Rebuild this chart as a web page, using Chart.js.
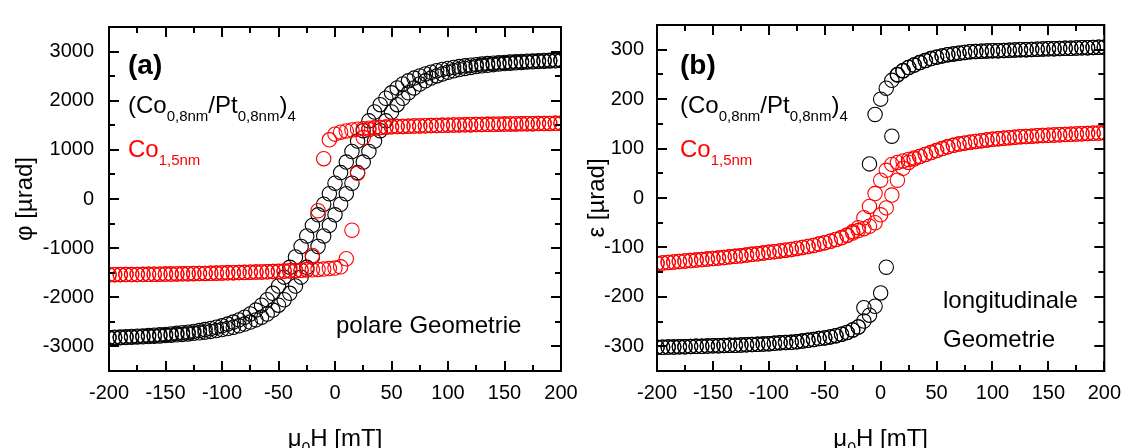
<!DOCTYPE html>
<html>
<head>
<meta charset="utf-8">
<script src="https://cdn.jsdelivr.net/npm/chart.js@4.4.1/dist/chart.umd.min.js"></script>
<style>
    html, body { margin: 0; padding: 0; background: #fff; }
    #wrap { position: relative; width: 1131px; height: 448px; overflow: hidden; }
    canvas { position: absolute; top: 0; }
    #chartA { left: 0; }
    #chartB { left: 570px; }
</style>
</head>
<body>
<div id="wrap">
    <canvas id="chartA" width="600" height="448"></canvas>
    <canvas id="chartB" width="561" height="448"></canvas>
</div>
<script>
// ---------- Data ----------
// applied field mu0H [mT], same sweep points for every branch
const field = [
    -200, -195, -190, -185, -180, -175, -170, -165, -160, -155,
    -150, -145, -140, -135, -130, -125, -120, -115, -110, -105,
    -100, -95, -90, -85, -80, -75, -70, -65, -60, -55,
    -50, -45, -40, -35, -30, -25, -20, -15, -10, -5,
    0, 5, 10, 15, 20, 25, 30, 35, 40, 45,
    50, 55, 60, 65, 70, 75, 80, 85, 90, 95,
    100, 105, 110, 115, 120, 125, 130, 135, 140, 145,
    150, 155, 160, 165, 170, 175, 180, 185, 190, 195,
    200,
];

// (a) polar Kerr rotation phi [urad] — (Co0.8/Pt0.8)4, black
const phiCoPtUp = [
    -2830, -2826, -2822, -2818, -2813, -2808, -2803, -2798, -2792, -2786,
    -2779, -2772, -2764, -2755, -2745, -2734, -2722, -2709, -2694, -2677,
    -2657, -2635, -2610, -2580, -2545, -2505, -2460, -2405, -2340, -2260,
    -2160, -2050, -1920, -1770, -1590, -1390, -1180, -967, -752, -537,
    -322, -107, 107, 322, 537, 752, 967, 1180, 1390, 1590,
    1770, 1920, 2050, 2160, 2260, 2340, 2405, 2460, 2505, 2545,
    2580, 2610, 2635, 2657, 2677, 2694, 2709, 2722, 2734, 2745,
    2755, 2764, 2772, 2779, 2786, 2792, 2798, 2803, 2808, 2813,
    2818,
];
const phiCoPtDown = [
    -2818, -2813, -2808, -2803, -2798, -2792, -2786, -2779, -2772, -2764,
    -2755, -2745, -2734, -2722, -2709, -2694, -2677, -2657, -2635, -2610,
    -2580, -2545, -2505, -2460, -2405, -2340, -2260, -2160, -2050, -1920,
    -1770, -1590, -1390, -1180, -967, -752, -537, -322, -107, 107,
    322, 537, 752, 967, 1180, 1390, 1590, 1770, 1920, 2050,
    2160, 2260, 2340, 2405, 2460, 2505, 2545, 2580, 2610, 2635,
    2657, 2677, 2694, 2709, 2722, 2734, 2745, 2755, 2764, 2772,
    2779, 2786, 2792, 2798, 2803, 2808, 2813, 2818, 2822, 2826,
    2830,
];

// (a) Co 1.5nm, red
const phiCoUp = [
    -1540, -1539, -1538, -1537, -1536, -1535, -1533, -1532, -1530, -1529,
    -1527, -1526, -1524, -1522, -1520, -1518, -1516, -1514, -1511, -1508,
    -1505, -1502, -1499, -1496, -1493, -1490, -1487, -1484, -1480, -1476,
    -1472, -1467, -1462, -1456, -1450, -1445, -1440, -1433, -1425, -1415,
    -1405, -1380, -1216, -635, 523, 1250, 1410, 1440, 1455, 1462,
    1468, 1473, 1477, 1481, 1485, 1488, 1491, 1494, 1497, 1500,
    1503, 1506, 1508, 1510, 1513, 1515, 1517, 1519, 1521, 1523,
    1525, 1527, 1528, 1530, 1532, 1533, 1535, 1536, 1538, 1539,
    1540,
];
const phiCoDown = [
    -1541, -1540, -1539, -1538, -1537, -1536, -1534, -1533, -1531, -1530,
    -1528, -1527, -1525, -1523, -1521, -1519, -1517, -1515, -1512, -1509,
    -1506, -1503, -1500, -1497, -1494, -1491, -1488, -1485, -1481, -1477,
    -1473, -1468, -1463, -1457, -1451, -1435, -1150, -238, 821, 1204,
    1320, 1360, 1385, 1405, 1420, 1432, 1442, 1450, 1457, 1463,
    1468, 1473, 1477, 1481, 1485, 1488, 1491, 1494, 1497, 1500,
    1503, 1506, 1508, 1510, 1513, 1515, 1517, 1519, 1521, 1523,
    1525, 1527, 1528, 1530, 1532, 1533, 1535, 1536, 1538, 1539,
    1541,
];

// (b) longitudinal Kerr ellipticity eps [urad] — (Co0.8/Pt0.8)4, black
const epsCoPtUp = [
    -302, -302, -301.5, -301.5, -301, -301, -300.5, -300, -300, -299.5,
    -299, -299, -298.5, -298, -298, -297.5, -297, -296.5, -296, -295.5,
    -295, -294, -293, -292.5, -292, -291, -289.5, -288, -286.5, -284.5,
    -283, -281, -278.5, -275.5, -272, -267, -261, -249, -237, -219,
    -192, -140, 125, 250, 258, 264, 269, 274, 278, 282,
    285, 287.5, 290, 291.5, 293, 294.5, 296, 296.5, 297, 297.5,
    298, 298, 298.5, 299, 299.5, 300, 300, 300.5, 301, 301.5,
    302, 302, 302.5, 303, 303, 303.5, 304, 304, 304.5, 305,
    305,
];
const epsCoPtDown = [
    -302, -302, -301.5, -301.5, -301, -301, -300.5, -300, -300, -299.5,
    -299, -299, -298.5, -298, -298, -297.5, -297, -296.5, -296, -295.5,
    -295, -294, -293, -292.5, -292, -291, -289.5, -288, -286.5, -284.5,
    -283, -281, -278.5, -275.5, -272, -267, -261, -222, 69, 169,
    200, 222, 238, 249, 257, 264, 269, 274, 278, 282,
    285, 287.5, 290, 291.5, 293, 294.5, 296, 296.5, 297, 297.5,
    298, 298, 298.5, 299, 299.5, 300, 300, 300.5, 301, 301.5,
    302, 302, 302.5, 303, 303, 303.5, 304, 304, 304.5, 305,
    305,
];

// (b) Co 1.5nm, red
const epsCoUp = [
    -132.5, -131.5, -130.5, -129.5, -128.5, -127.5, -126.5, -125.5, -124.5, -123.5,
    -122.5, -121.5, -120.5, -119, -118, -117, -115.5, -114, -113, -111.5,
    -110, -108.5, -107, -105.5, -104, -102, -100, -98, -96, -93,
    -90.5, -87.5, -84, -80.5, -76, -71, -66, -62, -57, -50,
    -34, -20, 6, 36, 60, 72, 79, 84, 88, 92,
    96, 100, 103.5, 106.5, 109, 111, 113, 114.5, 116, 117.5,
    119, 120, 121, 122, 123, 124, 124.5, 125, 126, 126.5,
    127, 127.5, 128, 128.5, 129, 129.5, 130, 130.5, 131, 131.5,
    132,
];
const epsCoDown = [
    -132.5, -131.5, -130.5, -129.5, -128.5, -127.5, -126.5, -125.5, -124.5, -123.5,
    -122.5, -121.5, -120.5, -119, -118, -117, -115.5, -114, -113, -111.5,
    -110, -108.5, -107, -105.5, -104, -102, -100, -98, -96, -93,
    -90.5, -87.5, -84, -80, -75, -68, -60, -40, -17, 9,
    36, 56, 68, 72, 75, 78, 81, 84, 88, 92,
    96, 100, 103.5, 106.5, 109, 111, 113, 114.5, 116, 117.5,
    119, 120, 121, 122, 123, 124, 124.5, 125, 126, 126.5,
    127, 127.5, 128, 128.5, 129, 129.5, 130, 130.5, 131, 131.5,
    132,
];

// axis ticks
const xTicks = [-200, -150, -100, -50, 0, 50, 100, 150, 200];
const xMinor = [-175, -125, -75, -25, 25, 75, 125, 175];
const yTicksA = [-3000, -2000, -1000, 0, 1000, 2000, 3000];
const yMinorA = [-2500, -1500, -500, 500, 1500, 2500];
const yTicksB = [-300, -200, -100, 0, 100, 200, 300];
const yMinorB = [-250, -150, -50, 50, 150, 250];

// texts ([string, isSubscript])
const labelCoPt = [['(Co', 0], ['0,8nm', 1], ['/Pt', 0], ['0,8nm', 1], [')', 0], ['4', 1]];
const labelCo = [['Co', 0], ['1,5nm', 1]];
const xTitle = [['\u03bc', 0], ['0', 1], ['H [mT]', 0]];

const FONT = "'Liberation Sans', Arial, Helvetica, sans-serif";
Chart.defaults.font.family = FONT;
Chart.defaults.color = '#000';

// ---------- helpers ----------
function partsWidth(ctx, parts, size, sub) {
    let w = 0;
    parts.forEach(([t, s]) => {
        ctx.font = (s ? sub : size) + 'px ' + FONT;
        w += ctx.measureText(t).width;
    });
    return w;
}

function drawParts(ctx, parts, x, y, size, sub, color) {
    ctx.fillStyle = color;
    ctx.textAlign = 'left';
    ctx.textBaseline = 'alphabetic';
    let cx = x;
    parts.forEach(([t, s]) => {
        ctx.font = (s ? sub : size) + 'px ' + FONT;
        ctx.fillText(t, cx, s ? y + 8 : y);
        cx += ctx.measureText(t).width;
    });
}

function pts(ys) {
    return field.map((x, i) => ({ x, y: ys[i] }));
}

function series(ys, color) {
    return {
        data: pts(ys),
        showLine: false,
        pointStyle: 'circle',
        pointRadius: 7.2,
        pointHoverRadius: 7.2,
        borderWidth: 1.1,
        borderColor: color,
        backgroundColor: 'rgba(0,0,0,0)',
        clip: 0,
    };
}

// ---------- frame, inside ticks and texts ----------
const framePlugin = {
    id: 'frame',
    afterDraw(chart, args, o) {
        const { ctx, chartArea: a } = chart;
        const xs = chart.scales.x, ys = chart.scales.y;
        ctx.save();
        ctx.strokeStyle = '#000';
        ctx.lineWidth = 2;
        ctx.beginPath();
        const xt = (vals, len) => vals.forEach(v => {
            const p = Math.round(xs.getPixelForValue(v));
            ctx.moveTo(p, a.bottom); ctx.lineTo(p, a.bottom - len);
            ctx.moveTo(p, a.top); ctx.lineTo(p, a.top + len);
        });
        const yt = (vals, len) => vals.forEach(v => {
            const p = Math.round(ys.getPixelForValue(v));
            ctx.moveTo(a.left, p); ctx.lineTo(a.left + len, p);
            ctx.moveTo(a.right, p); ctx.lineTo(a.right - len, p);
        });
        xt(xTicks, 10); xt(xMinor, 6);
        yt(o.yMajor, 10); yt(o.yMinor, 6);
        ctx.stroke();
        ctx.strokeRect(a.left, a.top, a.right - a.left, a.bottom - a.top);

        // axis titles
        const cx = (a.left + a.right) / 2;
        const w = partsWidth(ctx, xTitle, 24, 16);
        drawParts(ctx, xTitle, cx - w / 2, 446, 24, 16, '#000');

        ctx.save();
        ctx.translate(o.yTitleX, (a.top + a.bottom) / 2);
        ctx.rotate(-Math.PI / 2);
        ctx.font = '24px ' + FONT;
        ctx.textAlign = 'center';
        ctx.textBaseline = 'middle';
        ctx.fillStyle = '#000';
        ctx.fillText(o.yTitle, 0, 0);
        ctx.restore();

        // panel texts
        const lx = a.left + o.textDx;
        ctx.font = 'bold 28px ' + FONT;
        ctx.fillStyle = '#000';
        ctx.textAlign = 'left';
        ctx.textBaseline = 'alphabetic';
        ctx.fillText(o.tag, lx, 74);
        drawParts(ctx, labelCoPt, lx, 113, 24, 15, '#000');
        drawParts(ctx, labelCo, lx, 157, 24, 15, '#ff0000');
        ctx.font = '24px ' + FONT;
        ctx.fillStyle = '#000';
        o.geo.forEach(([t, x, y]) => ctx.fillText(t, x, y));
        ctx.restore();
    },
};

function makePanel(id, o) {
    return new Chart(document.getElementById(id), {
        type: 'scatter',
        data: {
            datasets: [
                series(o.redUp, '#ff0000'),
                series(o.redDown, '#ff0000'),
                series(o.blackUp, '#000000'),
                series(o.blackDown, '#000000'),
            ],
        },
        options: {
            responsive: false,
            animation: false,
            events: [],
            layout: { padding: { top: 18, bottom: 0, left: 0, right: o.padRight } },
            plugins: { legend: { display: false }, tooltip: { enabled: false }, frame: o },
            scales: {
                x: {
                    type: 'linear',
                    min: -200, max: 200,
                    afterBuildTicks: s => { s.ticks = xTicks.map(v => ({ value: v })); },
                    afterFit: s => { s.height = 77; },
                    grid: { display: false, drawTicks: false },
                    border: { display: false },
                    ticks: { padding: 10, font: { size: 20 }, color: '#000', callback: v => String(v), maxRotation: 0 },
                },
                y: {
                    type: 'linear',
                    min: o.yMin, max: o.yMax,
                    afterBuildTicks: s => { s.ticks = o.yMajor.map(v => ({ value: v })); },
                    afterFit: s => { s.width = o.yWidth; },
                    grid: { display: false, drawTicks: false },
                    border: { display: false },
                    ticks: { padding: o.yPad, font: { size: 20 }, color: '#000', callback: v => String(v) },
                },
            },
        },
        plugins: [framePlugin],
    });
}

makePanel('chartA', {
    redUp: phiCoUp, redDown: phiCoDown, blackUp: phiCoPtUp, blackDown: phiCoPtDown,
    yMin: -3500, yMax: 3500, yMajor: yTicksA, yMinor: yMinorA,
    yWidth: 109, yPad: 15, padRight: 39,
    yTitle: '\u03c6 [\u00b5rad]', yTitleX: 25,
    tag: '(a)', textDx: 19,
    geo: [['polare Geometrie', 336, 333]],
});

makePanel('chartB', {
    redUp: epsCoUp, redDown: epsCoDown, blackUp: epsCoPtUp, blackDown: epsCoPtDown,
    yMin: -350, yMax: 350, yMajor: yTicksB, yMinor: yMinorB,
    yWidth: 87, yPad: 13, padRight: 22,
    yTitle: '\u03b5 [\u00b5rad]', yTitleX: 27,
    tag: '(b)', textDx: 23,
    geo: [['longitudinale', 373, 308], ['Geometrie', 373, 347]],
});
</script>
</body>
</html>
